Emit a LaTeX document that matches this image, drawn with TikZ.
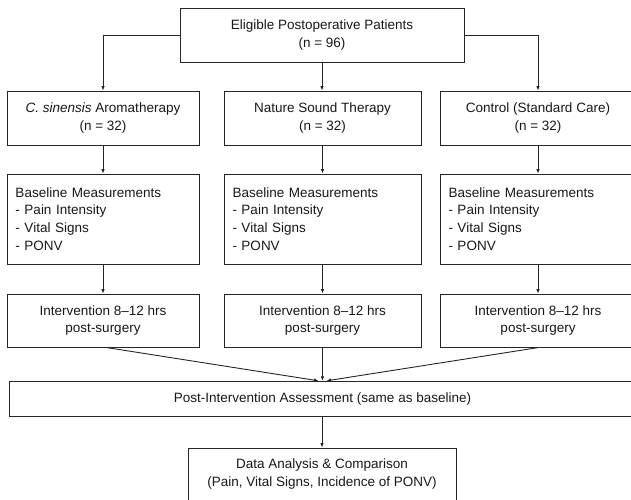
\documentclass[tikz,border=0pt]{standalone}
\usepackage{fontspec}
\setmainfont{Liberation Sans}
\usetikzlibrary{arrows.meta}
\begin{document}
\begin{tikzpicture}[x=1pt,y=-1pt,
  box/.style={draw=black!85, line width=0.9pt, inner sep=0pt, align=center,
    font=\fontsize{13.5}{17.7}\selectfont, text=black!90},
  listbox/.style={box, align=left, inner xsep=8.5pt},
  conn/.style={draw=black!85, line width=0.9pt, -{Latex[length=4.5pt,width=3.6pt]}}]
\useasboundingbox (0,0) rectangle (631,499);
\clip (0,0) rectangle (631,499);
\fill[white] (0,0) rectangle (631,499);
% top
\node[box, minimum width=284pt, minimum height=54pt] (top) at (322,35) {Eligible Postoperative Patients\\(n = 96)};
% row 2
\node[box, minimum width=192pt, minimum height=54pt] (a1) at (103,118) {\textit{C. sinensis} Aromatherapy\\(n = 32)};
\node[box, minimum width=197pt, minimum height=54pt] (b1) at (322.5,118) {Nature Sound Therapy\\(n = 32)};
\node[box, minimum width=196pt, minimum height=54pt] (c1) at (538,118) {Control (Standard Care)\\(n = 32)};
% row 3
\node[listbox, text width=175pt, minimum height=90pt] (a2) at (103,219) {Baseline Measurements\\- Pain Intensity\\- Vital Signs\\- PONV};
\node[listbox, text width=180pt, minimum height=90pt] (b2) at (322.5,219) {Baseline Measurements\\- Pain Intensity\\- Vital Signs\\- PONV};
\node[listbox, text width=179pt, minimum height=90pt] (c2) at (538,219) {Baseline Measurements\\- Pain Intensity\\- Vital Signs\\- PONV};
% row 4
\node[box, minimum width=192pt, minimum height=53pt] (a3) at (103,320.5) {Intervention 8–12 hrs\\post-surgery};
\node[box, minimum width=197pt, minimum height=53pt] (b3) at (322.5,320.5) {Intervention 8–12 hrs\\post-surgery};
\node[box, minimum width=196pt, minimum height=53pt] (c3) at (538,320.5) {Intervention 8–12 hrs\\post-surgery};
% row 5
\node[box, minimum width=627pt, minimum height=35.5pt] (post) at (322.5,399) {Post-Intervention Assessment (same as baseline)};
% row 6
\node[box, minimum width=268pt, minimum height=52pt] (data) at (322,474) {Data Analysis \& Comparison\\(Pain, Vital Signs, Incidence of PONV)};
% connectors
\draw[conn] (top.west) -| (a1.north);
\draw[conn] (top.south) -- (top.south |- b1.north);
\draw[conn] (top.east) -| (c1.north);
\draw[conn] (a1) -- (a2);
\draw[conn] (b1.south) -- (b1.south |- b2.north);
\draw[conn] (c1) -- (c2);
\draw[conn] (a2) -- (a3);
\draw[conn] (b2.south) -- (b2.south |- b3.north);
\draw[conn] (c2) -- (c3);
\draw[conn] ([xshift=3pt]a3.south) -- ([xshift=-4pt]post.north);
\draw[conn] (b3.south) -- (b3.south |- post.north);
\draw[conn] ([xshift=1pt]c3.south) -- ([xshift=4pt]post.north);
\draw[conn] (post.south -| data.north) -- (data.north);
\end{tikzpicture}
\end{document}
